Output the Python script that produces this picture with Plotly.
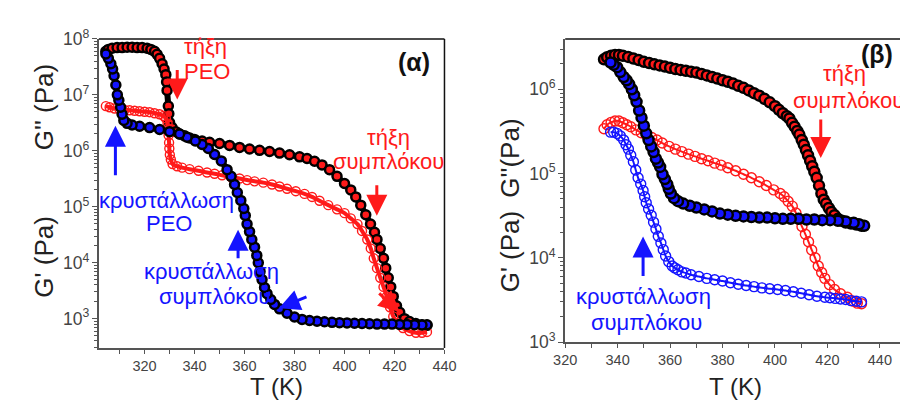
import plotly.graph_objects as go

W, H = 908, 402

# ---------------- Panel (α) data ----------------
a_heat_Gp_T = [304.5, 305.5, 307, 309, 311, 313, 315, 317, 319, 321, 322.5, 324, 325, 326, 327, 327.8, 328.5, 328.8, 329,
               329.5, 329.7, 330, 331, 332.5, 334, 336, 338, 340, 343, 346, 350, 354, 358, 362, 366, 370, 374, 378, 382,
               385, 388, 391, 394, 397, 400, 402.5, 404.5, 406.5, 408.5, 410.4, 412, 413, 414.3, 415.6, 416.5, 417.5,
               418.5, 419.5, 420.8, 422.1, 424, 426, 428.5, 431, 433]
a_heat_Gp_V = [6.0e7, 6.5e7, 6.8e7, 7.0e7, 7.0e7, 7.1e7, 7.1e7, 7.0e7, 7.0e7, 6.8e7, 6.5e7, 6.0e7, 5.3e7, 4.5e7, 3.6e7, 2.9e7,
               2.3e7, 1.7e7, 1.2e7, 6.3e6, 4.6e6, 3.2e6, 2.6e6, 2.2e6, 2.0e6, 1.85e6, 1.7e6, 1.6e6, 1.5e6, 1.42e6, 1.35e6,
               1.25e6, 1.15e6, 1.08e6, 1.02e6, 9.7e5, 9.1e5, 8.5e5, 7.8e5, 7.3e5, 6.5e5, 5.6e5, 4.6e5, 3.5e5, 2.6e5, 2.0e5,
               1.5e5, 1.07e5, 7.2e4, 4.9e4, 3.5e4, 2.6e4, 1.8e4, 1.2e4, 8.0e3, 5.4e3, 3.7e3, 2.5e3, 1.7e3, 1.3e3, 1.0e3,
               890, 820, 780, 760]

a_cool_Gp_T = [433, 431, 428, 425, 422, 419, 416, 413, 410, 407, 404, 401, 398, 395, 392, 389, 386, 383, 380, 377, 374, 372,
               370.5, 369, 368, 367, 366.2, 365.5, 364.9, 364, 362.9, 362, 361, 360.3, 359.7, 358.5, 357.1, 356, 354.6,
               353, 350.7, 348, 345.5, 343, 340.3, 337, 334, 330, 326, 322, 318, 315, 313, 311.7, 311, 310.4, 309.7,
               309.1, 308.5, 307.8, 307.2, 306.5, 305.5, 304.5]
a_cool_Gp_V = [780, 770, 780, 790, 790, 800, 800, 800, 810, 820, 830, 840, 850, 860, 880, 900, 930, 970, 1.07e3, 1.25e3,
               1.5e3, 1.8e3, 2.2e3, 2.8e3, 3.6e3, 5.0e3, 7.0e3, 1.0e4, 1.35e4, 1.9e4, 2.6e4, 3.6e4, 4.9e4, 7.0e4, 9.3e4,
               1.3e5, 1.8e5, 2.5e5, 3.5e5, 4.6e5, 6.6e5, 8.6e5, 1.1e6, 1.3e6, 1.5e6, 1.75e6, 2.0e6, 2.2e6, 2.4e6, 2.6e6,
               2.75e6, 2.9e6, 3.1e6, 3.5e6, 4.5e6, 6.0e6, 8.0e6, 1.0e7, 1.5e7, 2.2e7, 2.9e7, 3.6e7, 4.5e7, 5.4e7]

a_heat_Gpp_T = [304.5, 306, 308, 310, 312, 314, 316, 318, 320, 322, 324, 326, 327.5, 328.5, 329.2, 329.4, 329.6, 329.8,
                329.9, 330.1, 330.5, 331.2, 333, 335, 338, 341.6, 345, 348, 351, 354.6, 358, 361, 364, 367.5, 371, 374,
                377, 380.5, 384, 387, 390, 393.5, 397, 400, 402.5, 405.2, 407, 409.1, 410.5, 411.7, 413, 414.3, 415.6,
                416.9, 418.2, 419.5, 421.5, 423.4, 426, 428.6, 431, 433]
a_heat_Gpp_V = [6.3e6, 6.0e6, 5.7e6, 5.5e6, 5.4e6, 5.3e6, 5.2e6, 5.1e6, 5.0e6, 4.9e6, 4.7e6, 4.5e6, 4.2e6, 3.8e6, 3.1e6,
                2.5e6, 1.9e6, 1.4e6, 1.1e6, 8.5e5, 7.0e5, 5.8e5, 5.3e5, 5.0e5, 4.7e5, 4.4e5, 4.1e5, 3.9e5, 3.65e5, 3.4e5,
                3.2e5, 3.0e5, 2.85e5, 2.7e5, 2.5e5, 2.3e5, 2.1e5, 1.9e5, 1.7e5, 1.5e5, 1.28e5, 1.07e5, 9.0e4, 7.7e4,
                6.2e4, 4.9e4, 3.7e4, 2.6e4, 1.8e4, 1.2e4, 8.0e3, 5.4e3, 3.7e3, 2.5e3, 1.6e3, 1.1e3, 820, 680, 600, 560,
                560, 580]

# ---------------- Panel (β) data ----------------
b_heat_Gp_T = [334.8, 336, 337.5, 339, 340.5, 342, 344, 346, 348, 350, 352, 354, 356, 358, 360, 362, 364, 366, 368, 370,
               372, 374, 376, 378, 380, 382, 384, 386, 388, 390, 392, 394, 396, 398, 400, 401.5, 403, 404.5, 405.5,
               406.5, 407.5, 408.5, 409.3, 410.2, 411, 411.8, 412.6, 413.4, 414.2, 415, 415.9, 416.8, 417.7, 418.6,
               419.5, 420.5, 421.5, 422.7, 424, 425.5, 427, 429, 431, 433]
b_heat_Gp_V = [2.27e6, 2.4e6, 2.5e6, 2.55e6, 2.55e6, 2.5e6, 2.42e6, 2.32e6, 2.22e6, 2.12e6, 2.05e6, 1.98e6, 1.92e6,
               1.86e6, 1.8e6, 1.74e6, 1.7e6, 1.66e6, 1.62e6, 1.58e6, 1.52e6, 1.46e6, 1.4e6, 1.34e6, 1.28e6, 1.23e6,
               1.17e6, 1.1e6, 1.04e6, 9.7e5, 9.0e5, 8.4e5, 7.7e5, 7.0e5, 6.3e5, 5.7e5, 5.2e5, 4.8e5, 4.5e5, 4.0e5,
               3.6e5, 3.2e5, 2.9e5, 2.5e5, 2.2e5, 1.9e5, 1.65e5, 1.42e5, 1.22e5, 1.05e5, 8.9e4, 7.2e4, 5.8e4, 4.9e4,
               4.4e4, 3.9e4, 3.5e4, 3.2e4, 2.9e4, 2.75e4, 2.62e4, 2.55e4, 2.48e4, 2.4e4]

b_cool_Gp_T = [434, 432, 430, 427, 424, 421, 418, 415, 412, 409, 406, 403, 400, 397, 394, 391, 388, 385, 382, 379, 376,
               373, 370, 367.5, 365, 363, 361.5, 360.3, 359.5, 358.9, 358, 357.1, 356.2, 355.4, 354.6, 353.7, 352.8,
               351.8, 350.9, 350, 349.1, 348.2, 347.2, 346.3, 345.4, 344.4, 343.4, 342.3, 341, 339.8, 338.5, 337.3]
b_cool_Gp_V = [2.4e4, 2.5e4, 2.6e4, 2.7e4, 2.75e4, 2.8e4, 2.8e4, 2.85e4, 2.85e4, 2.9e4, 2.9e4, 2.9e4, 2.95e4, 3.0e4,
               3.0e4, 3.05e4, 3.1e4, 3.15e4, 3.25e4, 3.35e4, 3.55e4, 3.75e4, 3.95e4, 4.15e4, 4.4e4, 4.7e4, 5.1e4,
               5.8e4, 6.6e4, 7.5e4, 8.6e4, 9.8e4, 1.2e5, 1.35e5, 1.5e5, 1.8e5, 2.1e5, 2.5e5, 3.0e5, 3.7e5, 4.6e5,
               5.6e5, 7.1e5, 8.5e5, 1.0e6, 1.15e6, 1.28e6, 1.4e6, 1.6e6, 1.83e6, 1.95e6, 2.08e6]

b_heat_Gpp_T = [334.8, 336, 337.5, 339, 340.5, 342, 343.5, 345, 347, 349, 351, 353, 355, 357, 359.6, 362, 364.5, 367,
                369.5, 372, 374.5, 377, 379.4, 382, 385, 388, 391, 394, 396.7, 399.5, 402, 403.5, 405, 406.6, 408,
                409.1, 410.3, 411.6, 412.8, 414, 415.3, 416.5, 417.8, 419, 420.8, 422.7, 425, 427.6, 430, 431.4, 433]
b_heat_Gpp_V = [3.4e5, 3.8e5, 4.05e5, 4.2e5, 4.2e5, 4.0e5, 3.8e5, 3.6e5, 3.3e5, 3.05e5, 2.85e5, 2.68e5, 2.5e5, 2.3e5,
                2.1e5, 1.95e5, 1.82e5, 1.7e5, 1.6e5, 1.5e5, 1.42e5, 1.33e5, 1.26e5, 1.17e5, 1.08e5, 9.8e4, 8.9e4,
                8.0e4, 7.2e4, 6.4e4, 5.8e4, 5.3e4, 4.7e4, 4.1e4, 3.4e4, 2.9e4, 2.35e4, 1.9e4, 1.55e4, 1.24e4, 1.0e4,
                8.0e3, 6.7e3, 5.7e3, 4.8e3, 4.2e3, 3.75e3, 3.4e3, 3.05e3, 2.9e3, 2.85e3]

b_cool_Gpp_T = [433, 431, 429, 427, 425, 423, 421, 419, 416, 413, 410, 407, 404, 401, 398, 395, 392, 389, 386, 383, 380,
                377, 374, 371, 368, 366, 364.5, 363, 361.8, 360.8, 359.5, 358.3, 357.4, 356.5, 355.5, 354.6, 353.7,
                352.8, 351.8, 350.9, 350.3, 349.7, 348.8, 347.8, 346.9, 346, 345, 344.1, 343.2, 342.3, 341, 339.8,
                338.5, 337.3]
b_cool_Gpp_V = [3.0e3, 3.05e3, 3.1e3, 3.2e3, 3.25e3, 3.3e3, 3.35e3, 3.4e3, 3.5e3, 3.65e3, 3.8e3, 3.95e3, 4.1e3, 4.2e3,
                4.3e3, 4.4e3, 4.55e3, 4.7e3, 4.85e3, 5.05e3, 5.3e3, 5.5e3, 5.7e3, 6.0e3, 6.3e3, 6.6e3, 6.8e3, 7.2e3,
                7.6e3, 8.0e3, 9.0e3, 1.05e4, 1.25e4, 1.5e4, 1.8e4, 2.2e4, 2.65e4, 3.2e4, 3.8e4, 4.5e4, 5.3e4, 6.3e4,
                7.5e4, 8.9e4, 1.1e5, 1.38e5, 1.65e5, 1.95e5, 2.2e5, 2.5e5, 2.8e5, 3.0e5, 3.1e5, 3.1e5]

x_tick_vals = [320, 340, 360, 380, 400, 420, 440]

RED = "#ff1a1a"
BLUE = "#1414ff"
FONT = "Arial, Liberation Sans, sans-serif"

fig = go.Figure()


def filled(x, y, color, xa, ya, size, band):
    # dense-data look: dark band under the black-edged markers
    fig.add_trace(go.Scatter(x=x, y=y, mode="lines", xaxis=xa, yaxis=ya, showlegend=False, hoverinfo="skip",
                             line=dict(color="black", width=band, shape="spline", smoothing=0.6)))
    fig.add_trace(go.Scatter(x=x, y=y, mode="markers", xaxis=xa, yaxis=ya, showlegend=False,
                             marker=dict(symbol="circle", size=size, color=color,
                                         line=dict(color="black", width=2.5))))


def opened(x, y, color, xa, ya, size, band):
    fig.add_trace(go.Scatter(x=x, y=y, mode="lines", xaxis=xa, yaxis=ya, showlegend=False, hoverinfo="skip",
                             line=dict(color=color, width=band, shape="spline", smoothing=0.6)))
    fig.add_trace(go.Scatter(x=x, y=y, mode="markers", xaxis=xa, yaxis=ya, showlegend=False,
                             marker=dict(symbol="circle-open", size=size, color=color,
                                         line=dict(width=1.4))))


# panel α
filled(a_heat_Gp_T, a_heat_Gp_V, RED, "x", "y", 9, 6)
opened(a_heat_Gpp_T, a_heat_Gpp_V, RED, "x", "y", 9, 4)
filled(a_cool_Gp_T, a_cool_Gp_V, BLUE, "x", "y", 9, 6)

# panel β
filled(b_heat_Gp_T, b_heat_Gp_V, RED, "x2", "y2", 10, 6)
opened(b_heat_Gpp_T, b_heat_Gpp_V, RED, "x2", "y2", 10, 2)
opened(b_cool_Gpp_T, b_cool_Gpp_V, BLUE, "x2", "y2", 10, 2)
filled(b_cool_Gp_T, b_cool_Gp_V, BLUE, "x2", "y2", 10, 6)


def px(x):
    return x / W


def py(y):
    return 1 - y / H


AX = "#555555"
xcommon = dict(showline=True, linecolor=AX, linewidth=1.5, ticks="outside", ticklen=4, tickwidth=1.2,
               tickcolor=AX, tickvals=x_tick_vals, showgrid=False, zeroline=False,
               tickfont=dict(family=FONT, size=14.5, color="#444"),
               minor=dict(ticks="outside", ticklen=4, tickwidth=1.2, tickcolor=AX, dtick=10, showgrid=False))
ycommon = dict(type="log", showline=True, linecolor=AX, linewidth=1.5, ticks="outside", ticklen=5, tickwidth=1.2,
               tickcolor=AX, dtick=1, exponentformat="power", showexponent="all", showgrid=False, zeroline=False,
               tickfont=dict(family=FONT, size=14, color="#444"),
               minor=dict(ticks="outside", ticklen=3, tickwidth=1, tickcolor=AX, dtick="D1", showgrid=False))

fig.update_layout(
    width=W, height=H, margin=dict(l=0, r=0, t=0, b=0),
    paper_bgcolor="white", plot_bgcolor="white",
    font=dict(family=FONT),
    xaxis=dict(domain=[px(81), px(436)], range=[301.7, 440], anchor="y", **xcommon),
    yaxis=dict(domain=[py(347), py(20)], range=[2.476, 8.0], anchor="x", **ycommon),
    xaxis2=dict(domain=[px(560), 1.0], range=[320, 449.2], anchor="y2", **xcommon),
    yaxis2=dict(domain=[py(340.7), py(20)], range=[3.0, 6.598], anchor="x2", **ycommon),
)

# frame lines (top / right) drawn in black
for (x0, y0, x1, y1) in [(81, 20, 436, 20), (436, 20, 436, 347), (560, 20, 908, 20)]:
    fig.add_shape(type="line", xref="paper", yref="paper", x0=px(x0), x1=px(x1), y0=py(y0), y1=py(y1),
                  line=dict(color="#111", width=1.5))

ann = []


def text(x, y, s, color, size=22, bold=False, angle=0):
    ann.append(dict(x=px(x), y=py(y), xref="paper", yref="paper", text=("<b>%s</b>" % s) if bold else s,
                    showarrow=False, textangle=angle, xanchor="center", yanchor="middle",
                    font=dict(family=FONT, size=size, color=color)))


def arrow(x_tip, y_tip, x_tail, y_tail, color, width=3, size=1.4):
    ann.append(dict(x=px(x_tip), y=py(y_tip), xref="paper", yref="paper", text="", showarrow=True,
                    ax=x_tail - x_tip, ay=y_tail - y_tip, axref="pixel", ayref="pixel",
                    arrowhead=2, arrowsize=size, arrowwidth=width, arrowcolor=color, standoff=0))


# axis titles
text(25, 92, "G'' (Pa)", "#222", size=26, angle=-90)
text(25, 250, "G' (Pa)", "#222", size=26, angle=-90)
text(263, 388, "T (K)", "#222", size=24)
text(503, 146, "G''(Pa)", "#222", size=26, angle=-90)
text(503, 245, "G' (Pa)", "#222", size=26, angle=-90)
text(735, 388, "T (K)", "#222", size=24)

# panel α labels
text(405, 44, "(α)", "#111", size=25, bold=True)
text(191, 28, "τήξη", RED)
text(192, 54, "PEO", RED)
text(378, 124, "τήξη", RED)
text(378, 150, "συμπλόκου", RED)
text(150, 191, "κρυστάλλωση", BLUE)
text(153, 215, "PEO", BLUE)
text(197, 266, "κρυστάλλωση", BLUE)
text(200, 293, "συμπλόκου", BLUE)

arrow(161.5, 84, 161.5, 53, RED)
arrow(98, 112, 98, 163, BLUE)
arrow(366.5, 207, 366.5, 175, RED)
arrow(224, 222, 224, 252, BLUE)
arrow(266, 305, 295, 293, BLUE)
arrow(390, 309, 368, 289, RED)

# panel β labels
text(880, 36, "(β)", "#111", size=25, bold=True)
text(847, 57, "τήξη", RED)
text(851, 85, "συμπλόκου", RED)
text(640, 293, "κρυστάλλωση", BLUE)
text(643, 320, "συμπλόκου", BLUE)

arrow(822.5, 146, 822.5, 106, RED)
arrow(640, 229, 640, 270, BLUE)

fig.update_layout(annotations=ann)

fig.write_html("out.html")
